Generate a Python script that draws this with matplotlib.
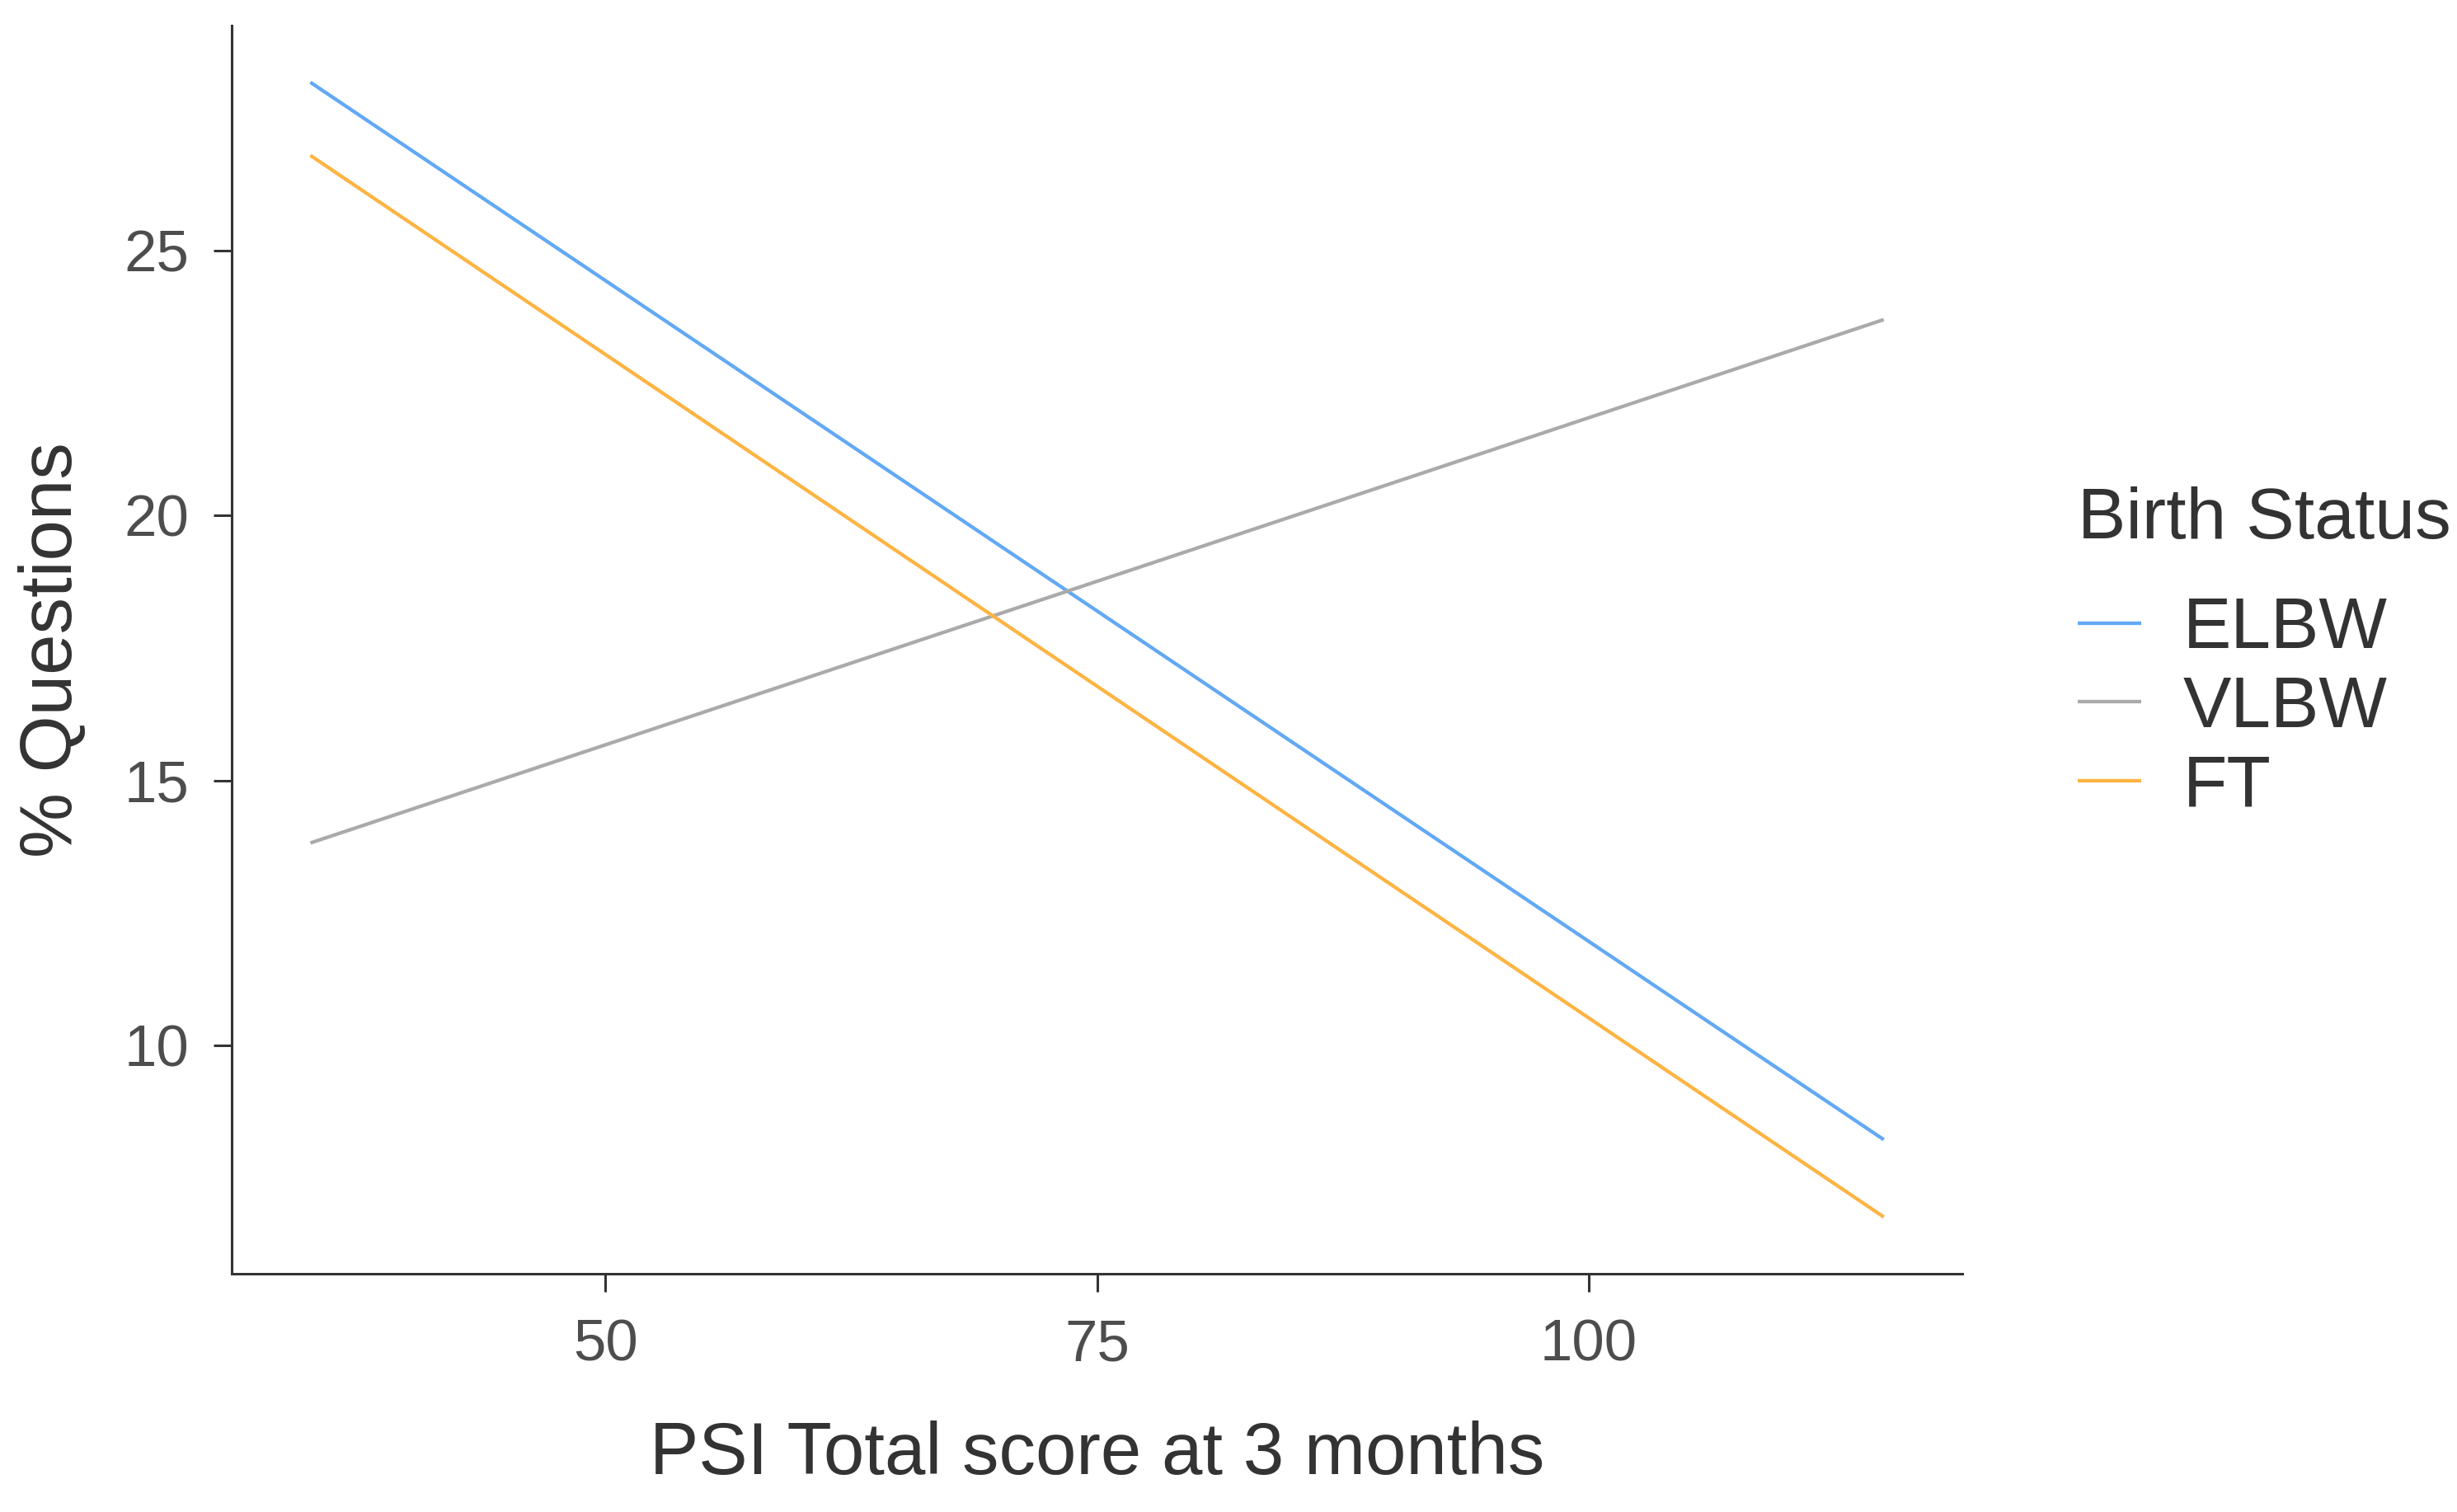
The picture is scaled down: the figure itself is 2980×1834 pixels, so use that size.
import matplotlib
matplotlib.use("Agg")
import matplotlib.pyplot as plt

plt.rcParams['font.family'] = ['Liberation Sans', 'DejaVu Sans']

# fitted lines (end points)
psi_range = [35, 115]
groups = ["ELBW", "VLBW", "FT"]
elbw = [28.18, 8.22]
vlbw = [13.82, 23.70]
ft = [26.80, 6.76]
colors = ["#62a9f4", "#aaaaaa", "#fdb443"]

x_ticks = [50, 75, 100]
y_ticks = [10, 15, 20, 25]

fig = plt.figure(figsize=(14.9, 9.17), dpi=200)
ax = fig.add_axes([0.0943, 0.1576, 0.7044, 0.8255])

for name, vals, c in zip(groups, [elbw, vlbw, ft], colors):
    ax.plot(psi_range, vals, color=c, lw=1.55, label=name, solid_capstyle="butt")

ax.margins(0.05)
ax.set_xticks(x_ticks)
ax.set_yticks(y_ticks)

for s in ["top", "right"]:
    ax.spines[s].set_visible(False)
for s in ["left", "bottom"]:
    ax.spines[s].set_linewidth(1.1)
    ax.spines[s].set_color("#333333")

ax.tick_params(axis="both", length=8, width=1.1, color="#333333",
               labelsize=25.5, labelcolor="#4d4d4d")
ax.tick_params(axis="x", pad=11.5)
ax.tick_params(axis="y", pad=10.5)

ax.set_xlabel("PSI Total score at 3 months", fontsize=32, color="#333333", labelpad=21)
ax.set_ylabel("% Questions", fontsize=32, color="#333333", labelpad=16)

leg = ax.legend(title="Birth Status", loc="upper left", bbox_to_anchor=(0.8456, 0.6785),
                bbox_transform=fig.transFigure, frameon=False, fontsize=31.5,
                title_fontsize=31.5, handlelength=0.88, handletextpad=0.58,
                labelspacing=0.165, alignment="left", borderpad=0, borderaxespad=0)
leg._legend_box.sep = 19  # extra gap between title and keys
leg.get_title().set_color("#333333")
for t in leg.get_texts():
    t.set_color("#333333")

fig.savefig("out.png", dpi=200)
